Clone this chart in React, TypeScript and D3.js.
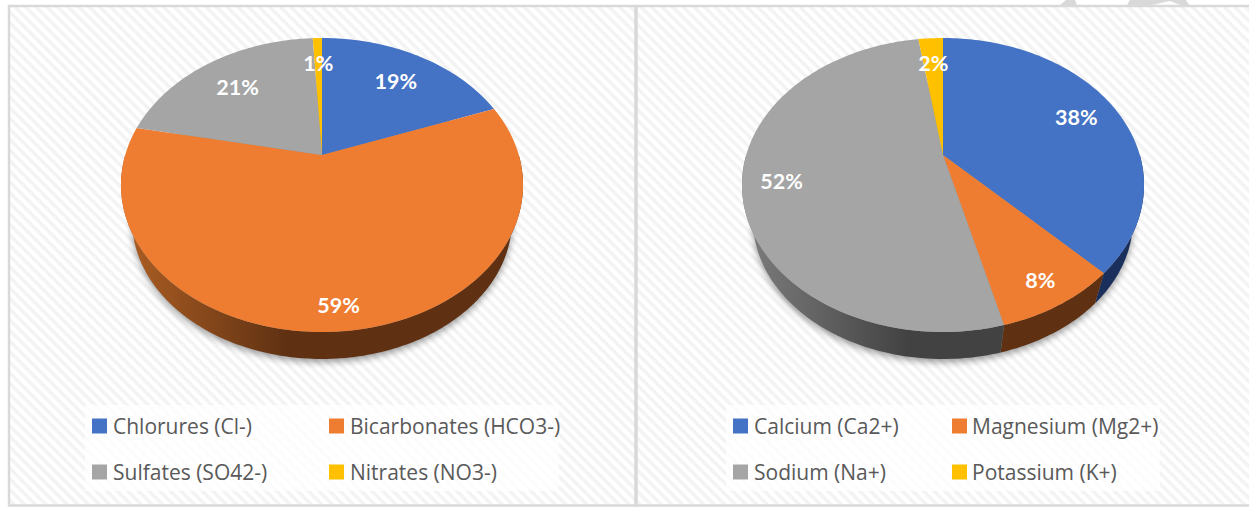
import React from "react";
import * as d3 from "d3";

const WIDTH = 1249;
const HEIGHT = 507;

const anionLabels = ["Chlorures (Cl-)", "Bicarbonates (HCO3-)", "Sulfates (SO42-)", "Nitrates (NO3-)"];
const anionValues = [19.3, 58.9, 20.9, 0.9];
const anionLabelRadius = [0.74, 0.88, 0.73, 0.75];
const anionLabelDy = [3, 0, 2, 0];

const cationLabels = ["Calcium (Ca2+)", "Magnesium (Mg2+)", "Sodium (Na+)", "Potassium (K+)"];
const cationValues = [37.7, 8.3, 51.6, 2.4];
const cationLabelRadius = [0.775, 0.856, 0.81, 0.75];
const cationLabelDy = [1, 1, 3, 0];

const sliceColors = ["#4472c4", "#ef7d31", "#a5a5a5", "#ffc000"];
const wallLight = ["#27447c", "#a95c22", "#7a7a7a", "#997300"];
const wallDark = ["#1a2f5c", "#5f3112", "#424242", "#7f6000"];

// perspective of the tilted disc: the apex does not sit at the centre of the ellipse
const TILT = 0.204;
const SCALE_X = 196.8;
const SCALE_Y = 140.9;
const APEX_Y = 155;
const BOTTOM_SCALE = 0.945;
const BOTTOM_SHIFT = 36.7;

const project = (cx: number, theta: number, r = 1, bottom = false) => {
  const u = Math.sin(theta) * r;
  const w = Math.cos(theta) * r;
  const d = 1 + TILT * w;
  const s = bottom ? BOTTOM_SCALE : 1;
  return [
    cx + (s * SCALE_X * u) / d,
    APEX_Y + (bottom ? BOTTOM_SHIFT : 0) - (s * SCALE_Y * w) / d,
  ] as [number, number];
};

const line = d3.line();

const angles = (a0: number, a1: number) => {
  const n = Math.max(2, Math.ceil((a1 - a0) / 0.02));
  return d3.range(n + 1).map((i) => a0 + ((a1 - a0) * i) / n);
};

const Pie3D = ({ id, cx, values, radii, dys }: { id: string; cx: number; values: number[]; radii: number[]; dys: number[] }) => {
  const arcs = d3.pie<number>().sort(null)(values);
  const all = angles(0, Math.PI * 2);
  return (
    <g>
      <defs>
        {sliceColors.map((_, i) => (
          <linearGradient key={i} id={`${id}-wall-${i}`} gradientUnits="userSpaceOnUse" x1={cx - 190} x2={cx - 35} y1={0} y2={0}>
            <stop offset="0" stopColor={wallLight[i]} />
            <stop offset="1" stopColor={wallDark[i]} />
          </linearGradient>
        ))}
      </defs>
      <path
        d={line(all.map((t) => project(cx, t, 1, true))) + "Z"}
        transform="translate(0,3)"
        fill="#000"
        opacity={0.4}
        filter="url(#pie-shadow)"
      />
      {arcs.map((a, i) => {
        const a0 = Math.max(a.startAngle, Math.PI / 2);
        const a1 = Math.min(a.endAngle, (Math.PI * 3) / 2);
        if (a1 <= a0) return null;
        const ts = angles(a0, a1);
        const pts = [...ts.map((t) => project(cx, t)), ...ts.slice().reverse().map((t) => project(cx, t, 1, true))];
        return <path key={i} d={line(pts) + "Z"} fill={`url(#${id}-wall-${i})`} />;
      })}
      {arcs.map((a, i) => {
        const pts = [[cx, APEX_Y] as [number, number], ...angles(a.startAngle, a.endAngle).map((t) => project(cx, t))];
        return <path key={i} d={line(pts) + "Z"} fill={sliceColors[i]} />;
      })}
      {arcs.map((a, i) => {
        const [x, y] = project(cx, (a.startAngle + a.endAngle) / 2, radii[i]);
        return (
          <text
            key={i}
            x={x}
            y={y + dys[i]}
            dy="0.35em"
            textAnchor="middle"
            fontFamily="Lato, sans-serif"
            fontWeight={700}
            fontSize={21.5}
            fill="#fff"
          >
            {Math.round(values[i])}%
          </text>
        );
      })}
    </g>
  );
};

const Legend = ({ x, width, swatch, text, labels }: { x: number; width: number; swatch: number[]; text: number[]; labels: string[] }) => {
  const rowY = d3.scalePoint<number>().domain([0, 1]).range([426, 472]);
  return (
    <g>
      <rect x={x} y={405} width={width} height={86} fill="#fff" opacity={0.75} />
      {labels.map((label, i) => {
        const col = i % 2;
        const y = rowY(Math.floor(i / 2)) as number;
        return (
          <g key={label}>
            <rect x={swatch[col]} y={y - 7.5} width={15} height={15} fill={sliceColors[i]} />
            <text
              x={text[col]}
              y={y + 1}
              dy="0.35em"
              fontFamily="'Open Sans', sans-serif"
              fontSize={21}
              fill="#595959"
            >
              {label}
            </text>
          </g>
        );
      })}
    </g>
  );
};

export default function App() {
  return (
    <svg
      width={WIDTH}
      height={HEIGHT}
      viewBox={`0 0 ${WIDTH} ${HEIGHT}`}
      style={{ position: "absolute", left: 0, top: 0, display: "block" }}
    >
      <defs>
        <pattern id="stripes" width={7.5} height={7.5} patternUnits="userSpaceOnUse" patternTransform="rotate(45)">
          <rect width={7.5} height={7.5} fill="#fff" />
          <rect width={7.5} height={3.4} fill="#f3f3f3" />
        </pattern>
        <filter id="pie-shadow" x="-10%" y="-10%" width="120%" height="120%">
          <feGaussianBlur stdDeviation={3.5} />
        </filter>
      </defs>
      <rect width={WIDTH} height={HEIGHT} fill="#fff" />
      <path d="M1060,5L1066,0H1075L1077,5ZM1127,5L1130,0H1150L1146,5ZM1136,5L1141,0H1186L1189,5H1180L1170,1L1152,5Z" fill="#d9d9d9" />
      <rect x={9} y={6} width={626.5} height={499.5} fill="url(#stripes)" stroke="#d9d9d9" strokeWidth={2.5} />
      <rect x={636.5} y={6} width={620} height={499.5} fill="url(#stripes)" stroke="#d9d9d9" strokeWidth={2.5} />
      <Pie3D id="anions" cx={322} values={anionValues} radii={anionLabelRadius} dys={anionLabelDy} />
      <Pie3D id="cations" cx={943} values={cationValues} radii={cationLabelRadius} dys={cationLabelDy} />
      <Legend x={85} width={474} swatch={[92, 329]} text={[113, 350]} labels={anionLabels} />
      <Legend x={726} width={434} swatch={[733, 952]} text={[754, 972]} labels={cationLabels} />
    </svg>
  );
}
